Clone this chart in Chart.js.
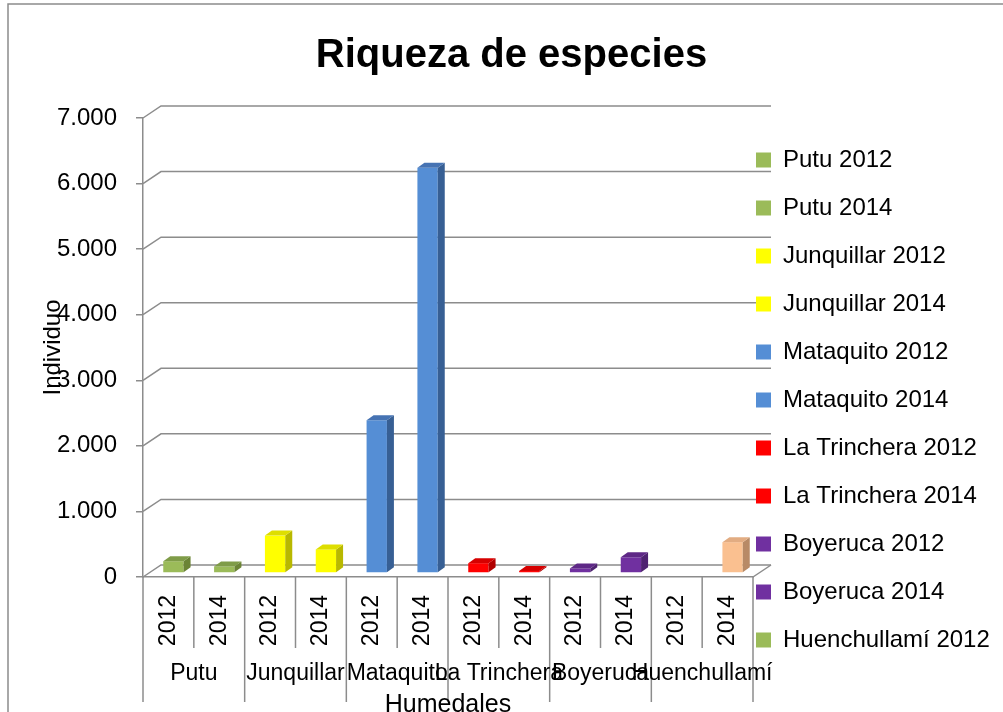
<!DOCTYPE html>
<html lang="es">
<head>
<meta charset="utf-8">
<title>Riqueza de especies</title>
<script src="https://cdn.jsdelivr.net/npm/chart.js@4.4.1/dist/chart.umd.min.js"></script>
<style>
  html, body { margin: 0; padding: 0; background: #fff; }
  canvas { display: block; }
</style>
</head>
<body>
<canvas id="grafico" width="1003" height="712"></canvas>
<script>
// datos
const humedales = ["Putu", "Junquillar", "Mataquito", "La Trinchera", "Boyeruca", "Huenchullamí"];
const anios = ["2012", "2014"];
const individuos2012 = [180, 570, 2330, 150, 70, 0];
const individuos2014 = [100, 360, 6180, 30, 240, 470];

// un color por serie (humedal + año)
const coloresFrente = ["#9BBB59", "#9BBB59", "#FFFF00", "#FFFF00", "#558ED5", "#558ED5",
                       "#FF0000", "#FF0000", "#7030A0", "#7030A0", "#9BBB59", "#FAC090"];
const coloresLado = ["#6B8435", "#6B8435", "#B8B800", "#B8B800", "#375F94", "#375F94",
                     "#B00000", "#B00000", "#4E2270", "#4E2270", "#6B8435", "#B88A66"];
const coloresTapa = ["#7F9C48", "#7F9C48", "#DEDE00", "#DEDE00", "#4673B3", "#4673B3",
                     "#D60000", "#D60000", "#5E2886", "#5E2886", "#7F9C48", "#E2AC82"];

const gris = "#8c8c8c";
const DX = 18, DY = -12;      // profundidad de las paredes
const PX = 7, PY = 5;         // profundidad de cada barra

const etiquetas = [];
humedales.forEach(() => anios.forEach(a => etiquetas.push(a)));

const series = [];
humedales.forEach((h, i) => {
  anios.forEach((a, j) => {
    const k = i * 2 + j;
    const data = new Array(etiquetas.length).fill(null);
    data[k] = j === 0 ? individuos2012[i] : individuos2014[i];
    series.push({
      label: h + " " + a,
      data: data,
      backgroundColor: coloresFrente[k],
      borderWidth: 0,
      colorLado: coloresLado[k],
      colorTapa: coloresTapa[k]
    });
  });
});

function miles(v) {
  return String(v).replace(/\B(?=(\d{3})+(?!\d))/g, ".");
}

Chart.defaults.font.family = "'Liberation Sans', Arial, sans-serif";
Chart.defaults.color = "#000";

// paredes, piso, marco y tabla de categorias
const paredes = {
  id: "paredes",
  beforeDraw(chart) {
    const { ctx, chartArea: a, scales: { x, y } } = chart;
    ctx.save();
    ctx.strokeStyle = gris;
    ctx.lineWidth = 1.5;

    ctx.beginPath();
    ctx.moveTo(8, chart.height);
    ctx.lineTo(8, 4);
    ctx.lineTo(chart.width, 4);
    ctx.stroke();

    y.ticks.forEach(t => {
      const py = y.getPixelForValue(t.value);
      ctx.beginPath();
      ctx.moveTo(a.left, py);
      ctx.lineTo(a.left + DX, py + DY);
      ctx.lineTo(a.right + DX, py + DY);
      ctx.stroke();
    });

    ctx.beginPath();
    ctx.moveTo(a.right, a.bottom);
    ctx.lineTo(a.right + DX, a.bottom + DY);
    ctx.stroke();

    for (let i = 0; i <= etiquetas.length; i++) {
      const px = x.getPixelForValue(i - 0.5);
      ctx.beginPath();
      ctx.moveTo(px, a.bottom);
      ctx.lineTo(px, a.bottom + (i % 2 === 0 ? 125 : 71));
      ctx.stroke();
    }

    ctx.fillStyle = "#000";
    ctx.font = "23px 'Liberation Sans', Arial, sans-serif";
    ctx.textAlign = "center";
    ctx.textBaseline = "middle";
    humedales.forEach((h, g) => {
      ctx.fillText(h, x.getPixelForValue(g * 2 + 0.5), a.bottom + 97);
    });
    ctx.restore();
  }
};

// caras laterales y superiores de las columnas
const barras3D = {
  id: "barras3D",
  beforeDatasetsDraw(chart) {
    chart.ctx.save();
    chart.ctx.translate(5, -4);
  },
  afterDatasetsDraw(chart) {
    const ctx = chart.ctx;
    chart.data.datasets.forEach((ds, i) => {
      const meta = chart.getDatasetMeta(i);
      meta.data.forEach((bar, j) => {
        if (!ds.data[j]) return;
        const { x, y, base, width } = bar.getProps(["x", "y", "base", "width"], true);
        const l = x - width / 2, r = x + width / 2;
        ctx.fillStyle = ds.colorLado;
        ctx.beginPath();
        ctx.moveTo(r, y);
        ctx.lineTo(r + PX, y - PY);
        ctx.lineTo(r + PX, base - PY);
        ctx.lineTo(r, base);
        ctx.closePath();
        ctx.fill();
        ctx.fillStyle = ds.colorTapa;
        ctx.beginPath();
        ctx.moveTo(l, y);
        ctx.lineTo(l + PX, y - PY);
        ctx.lineTo(r + PX, y - PY);
        ctx.lineTo(r, y);
        ctx.closePath();
        ctx.fill();
      });
    });
    ctx.restore();
  }
};

// la leyenda se superpone un poco al area del grafico, como en el original
const moverLeyenda = {
  id: "moverLeyenda",
  afterLayout(chart) {
    const lg = chart.legend;
    lg.left -= 21;
    lg.top += 44; lg.bottom += 44;
  }
};

const grafico = new Chart(document.getElementById("grafico").getContext("2d"), {
  type: "bar",
  data: {
    labels: etiquetas,
    datasets: series
  },
  options: {
    responsive: false,
    animation: false,
    layout: { padding: { left: 20 } },
    datasets: { bar: { categoryPercentage: 1, barPercentage: 0.4 } },
    plugins: {
      title: {
        display: true,
        text: "Riqueza de especies",
        color: "#000",
        font: { size: 40, weight: "bold" },
        padding: { top: 32, bottom: 38 }
      },
      legend: {
        position: "right",
        maxWidth: 250,
        labels: {
          boxWidth: 15,
          boxHeight: 15,
          padding: 24,
          color: "#000",
          font: { size: 24 },
          filter: item => item.datasetIndex < 11
        }
      },
      tooltip: { enabled: false }
    },
    scales: {
      x: {
        stacked: true,
        grid: { display: false, drawTicks: false },
        border: { color: gris, width: 1.5 },
        ticks: { font: { size: 23 }, minRotation: 90, maxRotation: 90, padding: 18, autoSkip: false },
        title: { display: true, text: "Humedales", font: { size: 25 }, padding: { top: 0, bottom: -8 } },
        afterFit: s => { s.height = 135; }
      },
      y: {
        stacked: true,
        min: 0,
        max: 7000,
        ticks: { stepSize: 1000, font: { size: 24 }, padding: 19, callback: v => miles(v) },
        grid: { drawOnChartArea: false, tickLength: 7, color: gris, lineWidth: 1.5 },
        border: { color: gris, width: 1.5 },
        title: { display: true, text: "Individuo", font: { size: 24 }, padding: { top: 19, bottom: 0 } },
        afterFit: s => { s.width = 123; }
      }
    }
  },
  plugins: [paredes, barras3D, moverLeyenda]
});
</script>
</body>
</html>
